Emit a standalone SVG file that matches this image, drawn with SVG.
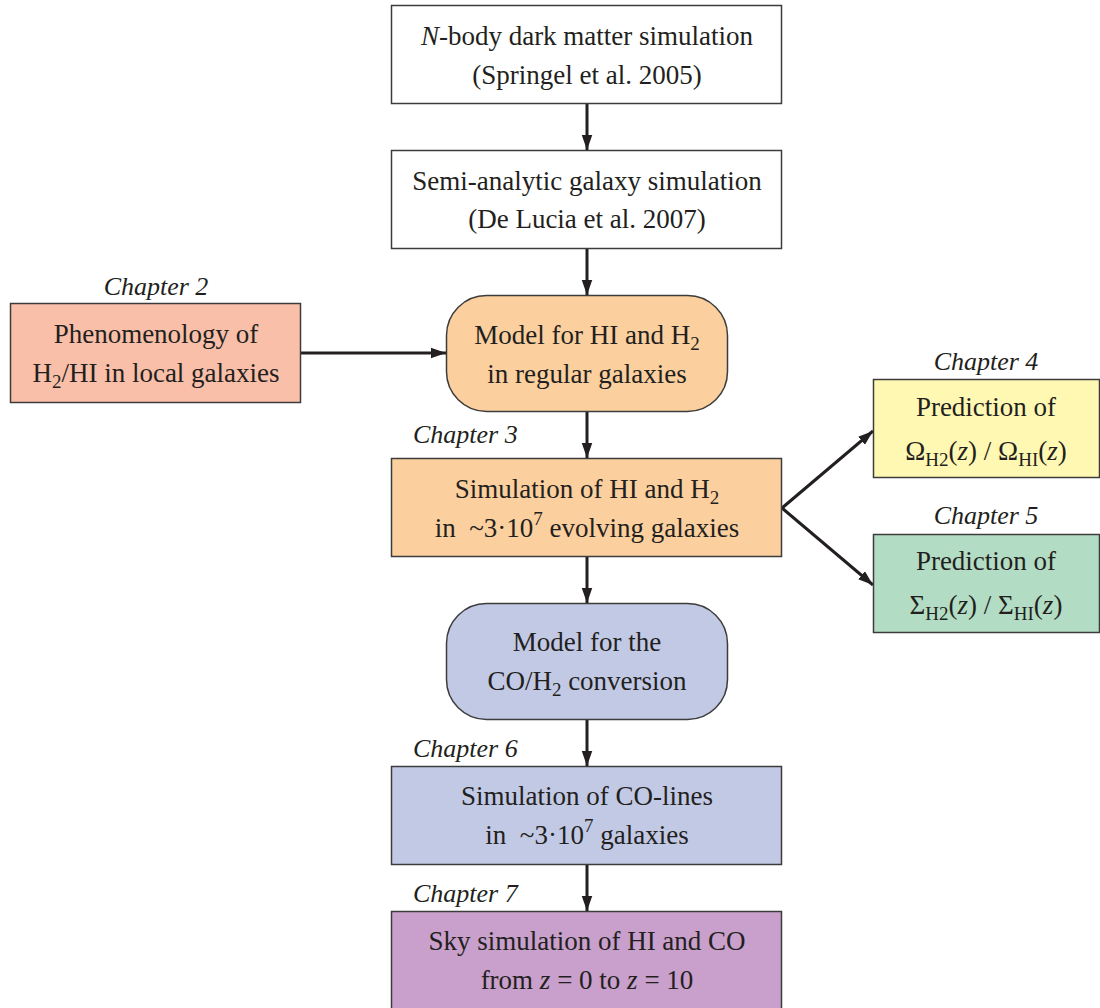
<svg xmlns="http://www.w3.org/2000/svg" width="1100" height="1008" viewBox="0 0 1100 1008">
<style>
text{font-family:"Liberation Serif","Times New Roman",serif;font-size:27px;fill:#231f20;text-anchor:middle}
.ch{font-style:italic;font-size:26px}
.st{text-anchor:start}
.box{stroke:#3c3c3c;stroke-width:1.5}
.c{stroke:#231f20;stroke-width:3;fill:none;marker-end:url(#ah)}
.sub{font-size:19px}
</style>
<defs>
<marker id="ah" viewBox="0 0 10 10" refX="10" refY="5" markerWidth="5" markerHeight="5" orient="auto" markerUnits="strokeWidth">
<path d="M0,1.5 L10,5 L0,8.5 z" fill="#231f20"/>
</marker>
</defs>
<rect width="1100" height="1008" fill="#fff"/>
<g id="connectors">
<line class="c" x1="587" y1="104" x2="587" y2="150"/>
<line class="c" x1="587" y1="248" x2="587" y2="295"/>
<line class="c" x1="301" y1="353" x2="446" y2="353"/>
<line class="c" x1="587" y1="412" x2="587" y2="458"/>
<line class="c" x1="782" y1="508" x2="873" y2="431"/>
<line class="c" x1="782" y1="508" x2="873" y2="585"/>
<line class="c" x1="587" y1="556" x2="587" y2="603"/>
<line class="c" x1="587" y1="720" x2="587" y2="766"/>
<line class="c" x1="587" y1="865" x2="587" y2="911"/>
</g>
<g id="n1">
<rect class="box" x="391.5" y="5.5" width="390" height="98" fill="#fff"/>
<text x="587" y="45"><tspan font-style="italic">N</tspan>-body dark matter simulation</text>
<text x="587" y="84">(Springel et al. 2005)</text>
</g>
<g id="n2">
<rect class="box" x="391.5" y="150.5" width="390" height="98" fill="#fff"/>
<text x="587" y="190">Semi-analytic galaxy simulation</text>
<text x="587" y="228">(De Lucia et al. 2007)</text>
</g>
<g id="n3">
<text class="ch" x="156" y="295">Chapter 2</text>
<rect class="box" x="10.5" y="303.5" width="290" height="99" fill="#f9bfa8"/>
<text x="156" y="343">Phenomenology of</text>
<text x="156" y="382">H<tspan class="sub" dy="6">2</tspan><tspan dy="-6">/HI in local galaxies</tspan></text>
</g>
<g id="n4">
<rect class="box" x="446.5" y="295.5" width="281" height="116" rx="40" fill="#fbd09e"/>
<text x="587" y="344">Model for HI and H<tspan class="sub" dy="6">2</tspan></text>
<text x="587" y="383">in regular galaxies</text>
</g>
<g id="n5">
<text class="ch st" x="413" y="443">Chapter 3</text>
<rect class="box" x="391.5" y="458.5" width="390" height="98" fill="#fbd09e"/>
<text x="587" y="498">Simulation of HI and H<tspan class="sub" dy="6">2</tspan></text>
<text x="587" y="537">in &#160;~3·10<tspan class="sub" dy="-12">7</tspan><tspan dy="12"> evolving galaxies</tspan></text>
</g>
<g id="n6">
<text class="ch" x="986" y="370">Chapter 4</text>
<rect class="box" x="873.5" y="379.5" width="226" height="98" fill="#fff8b2"/>
<text x="986" y="416">Prediction of</text>
<text x="986" y="460">Ω<tspan class="sub" dy="6">H2</tspan><tspan dy="-6">(<tspan font-style="italic">z</tspan>) / Ω</tspan><tspan class="sub" dy="6">HI</tspan><tspan dy="-6">(<tspan font-style="italic">z</tspan>)</tspan></text>
</g>
<g id="n7">
<text class="ch" x="986" y="524">Chapter 5</text>
<rect class="box" x="873.5" y="534.5" width="226" height="98" fill="#b3dcc4"/>
<text x="986" y="570">Prediction of</text>
<text x="986" y="614">Σ<tspan class="sub" dy="6">H2</tspan><tspan dy="-6">(<tspan font-style="italic">z</tspan>) / Σ</tspan><tspan class="sub" dy="6">HI</tspan><tspan dy="-6">(<tspan font-style="italic">z</tspan>)</tspan></text>
</g>
<g id="n8">
<rect class="box" x="446.5" y="603.5" width="281" height="116" rx="40" fill="#c2c9e5"/>
<text x="587" y="651">Model for the</text>
<text x="587" y="690">CO/H<tspan class="sub" dy="6">2</tspan><tspan dy="-6"> conversion</tspan></text>
</g>
<g id="n9">
<text class="ch st" x="413" y="757">Chapter 6</text>
<rect class="box" x="391.5" y="766.5" width="390" height="98" fill="#c2c9e5"/>
<text x="587" y="805">Simulation of CO-lines</text>
<text x="587" y="844">in &#160;~3·10<tspan class="sub" dy="-12">7</tspan><tspan dy="12"> galaxies</tspan></text>
</g>
<g id="n10">
<text class="ch st" x="413" y="902">Chapter 7</text>
<rect class="box" x="391.5" y="911.5" width="390" height="110" fill="#c8a0cb"/>
<text x="587" y="950">Sky simulation of HI and CO</text>
<text x="587" y="989">from <tspan font-style="italic">z</tspan> = 0 to <tspan font-style="italic">z</tspan> = 10</text>
</g>
</svg>
